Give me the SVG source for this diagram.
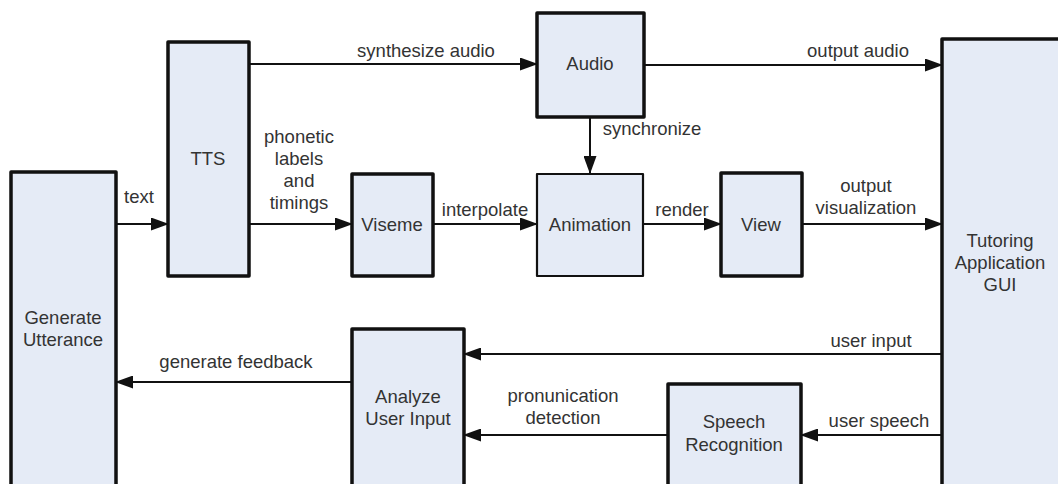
<svg xmlns="http://www.w3.org/2000/svg" width="1058" height="484" viewBox="0 0 1058 484">
<style>
.box{fill:#e5ebf6;stroke:#111;stroke-width:3.5;stroke-linejoin:round}
.thin{stroke-width:2.2}
.lbl{font-family:"Liberation Sans",Arial,sans-serif;font-size:18.5px;fill:#333;text-anchor:middle}
.con{stroke:#111;stroke-width:2;fill:none;marker-end:url(#ah)}
</style>
<defs>
<marker id="ah" markerWidth="18" markerHeight="13" refX="17" refY="6.5" orient="auto" markerUnits="userSpaceOnUse">
<path d="M0,0 L18,6.5 L0,13 Z" fill="#111"/>
</marker>
</defs>
<rect width="1058" height="484" fill="#fff"/>
<g id="connectors">
<line class="con" x1="116" y1="224" x2="168" y2="224"/>
<line class="con" x1="249" y1="64" x2="537" y2="64"/>
<line class="con" x1="249" y1="224" x2="352" y2="224"/>
<line class="con" x1="590" y1="117" x2="590" y2="173"/>
<line class="con" x1="433" y1="224" x2="537" y2="224"/>
<line class="con" x1="643" y1="224" x2="721" y2="224"/>
<line class="con" x1="644" y1="65" x2="942" y2="65"/>
<line class="con" x1="802" y1="224" x2="942" y2="224"/>
<line class="con" x1="942" y1="354" x2="464" y2="354"/>
<line class="con" x1="942" y1="435" x2="801" y2="435"/>
<line class="con" x1="668" y1="435" x2="464" y2="435"/>
<line class="con" x1="352" y1="382" x2="116" y2="382"/>
<text class="lbl" x="139" y="203">text</text>
<text class="lbl" x="426" y="57">synthesize audio</text>
<text class="lbl" x="299" y="143">phonetic</text>
<text class="lbl" x="299" y="165">labels</text>
<text class="lbl" x="299" y="187">and</text>
<text class="lbl" x="299" y="209">timings</text>
<text class="lbl" x="652" y="135">synchronize</text>
<text class="lbl" x="485" y="216">interpolate</text>
<text class="lbl" x="682" y="216">render</text>
<text class="lbl" x="858" y="57">output audio</text>
<text class="lbl" x="866" y="192">output</text>
<text class="lbl" x="866" y="214">visualization</text>
<text class="lbl" x="871" y="347">user input</text>
<text class="lbl" x="879" y="427">user speech</text>
<text class="lbl" x="563" y="402">pronunication</text>
<text class="lbl" x="563" y="424">detection</text>
<text class="lbl" x="236" y="368">generate feedback</text>
</g>
<g id="generate-utterance">
<rect class="box" x="11" y="172" width="105" height="330"/>
<text class="lbl" x="63" y="324">Generate</text>
<text class="lbl" x="63" y="346">Utterance</text>
</g>
<g id="tts">
<rect class="box" x="168" y="42" width="81" height="234"/>
<text class="lbl" x="208" y="165">TTS</text>
</g>
<g id="audio">
<rect class="box" x="537" y="13" width="107" height="104"/>
<text class="lbl" x="590" y="70">Audio</text>
</g>
<g id="viseme">
<rect class="box" x="352" y="174" width="81" height="102"/>
<text class="lbl" x="392" y="231">Viseme</text>
</g>
<g id="animation">
<rect class="box thin" x="537" y="174" width="106" height="102"/>
<text class="lbl" x="590" y="231">Animation</text>
</g>
<g id="view">
<rect class="box" x="721" y="173" width="81" height="103"/>
<text class="lbl" x="761" y="231">View</text>
</g>
<g id="tutoring-gui">
<rect class="box" x="942" y="39" width="130" height="470"/>
<text class="lbl" x="1000" y="247">Tutoring</text>
<text class="lbl" x="1000" y="269">Application</text>
<text class="lbl" x="1000" y="291">GUI</text>
</g>
<g id="analyze-user-input">
<rect class="box" x="352" y="329" width="112" height="180"/>
<text class="lbl" x="408" y="403">Analyze</text>
<text class="lbl" x="408" y="425">User Input</text>
</g>
<g id="speech-recognition">
<rect class="box" x="668" y="384" width="133" height="125"/>
<text class="lbl" x="734" y="428">Speech</text>
<text class="lbl" x="734" y="451">Recognition</text>
</g>
</svg>
